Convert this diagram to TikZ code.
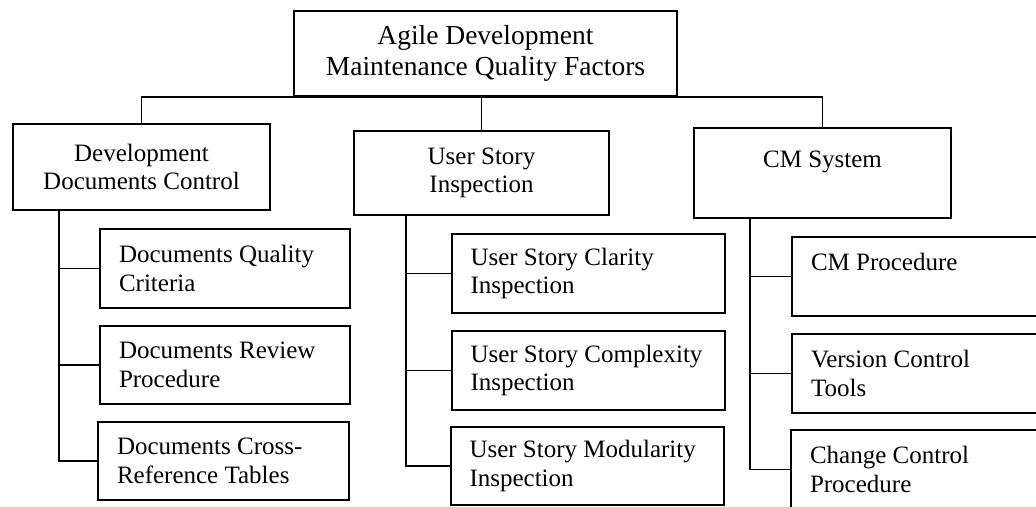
\documentclass[tikz,border=0pt]{standalone}
\usepackage{fontspec}
\setmainfont{Liberation Serif}
\newcommand{\lnbox}[1]{\mbox{#1}}
\begin{document}
\begin{tikzpicture}[x=1pt,y=-1pt,
  box/.style={draw, line width=1.8pt, inner sep=0pt, font=\fontsize{25}{28.5}\selectfont},
  mainbox/.style={box, align=center},
  leafbox/.style={box, align=flush left},
  conn/.style={line width=1.6pt}]
\useasboundingbox (0,0) rectangle (1036,506);
\clip (0,0) rectangle (1036,506);
% top
\node[mainbox, minimum width=383pt, minimum height=85pt, font=\fontsize{27.5}{31}\selectfont] (top) at (485.5,53.5) {Agile Development\\Maintenance Quality Factors};
% level 1
\node[mainbox, minimum width=257pt, minimum height=86pt] (dev) at (141.5,167) {Development\\Documents Control};
\node[mainbox, minimum width=255pt, minimum height=84pt] (usi) at (481.5,173) {User Story\\Inspection};
\node[mainbox, minimum width=257pt, minimum height=90pt] (cm) at (822.5,173) {CM System\\\mbox{}};
% leaves left
\node[leafbox, minimum width=250pt, text width=212pt, minimum height=79pt] (dq) at (225,268.5) {\lnbox{Documents Quality}\\\lnbox{Criteria}};
\node[leafbox, minimum width=250pt, text width=212pt, minimum height=78pt] (dr) at (225,365) {\lnbox{Documents Review}\\\lnbox{Procedure}};
\node[leafbox, minimum width=251pt, text width=213pt, minimum height=78pt] (dc) at (223.5,461) {\lnbox{Documents Cross-}\\\lnbox{Reference Tables}};
% leaves middle
\node[leafbox, minimum width=273pt, text width=236pt, minimum height=79pt] (uc) at (588.5,273.5) {\lnbox{User Story Clarity}\\\lnbox{Inspection}};
\node[leafbox, minimum width=273pt, text width=236pt, minimum height=79pt] (ux) at (588.5,370.5) {\lnbox{User Story Complexity}\\\lnbox{Inspection}};
\node[leafbox, minimum width=273pt, text width=236pt, minimum height=78pt] (um) at (587.5,466) {\lnbox{User Story Modularity}\\\lnbox{Inspection}};
% leaves right
\node[leafbox, minimum width=270pt, text width=232pt, minimum height=79pt] (cp) at (927,276.5) {\lnbox{CM Procedure}\\\mbox{}};
\node[leafbox, minimum width=270pt, text width=232pt, minimum height=79pt] (vc) at (927,373.5) {\lnbox{Version Control}\\\lnbox{Tools}};
\node[leafbox, minimum width=270pt, text width=232pt, minimum height=79pt] (cc) at (926,469.5) {\lnbox{Change Control}\\\lnbox{Procedure}};
% top connectors
\draw[conn] (dev.north) |- (top.south) -| (cm.north);
\draw[conn] (usi.north) -- (usi.north |- top.south);
% trunks
\coordinate (t1) at ([xshift=47pt]dev.south west);
\coordinate (t2) at ([xshift=53pt]usi.south west);
\coordinate (t3) at ([xshift=57pt]cm.south west);
\draw[conn] (t1) |- (dc.west);
\draw[conn] (dq.west) -- (dq.west -| t1);
\draw[conn] (dr.west) -- (dr.west -| t1);
\draw[conn] (t2) |- (um.west);
\draw[conn] (uc.west) -- (uc.west -| t2);
\draw[conn] (ux.west) -- (ux.west -| t2);
\draw[conn] (t3) |- (cc.west);
\draw[conn] (cp.west) -- (cp.west -| t3);
\draw[conn] (vc.west) -- (vc.west -| t3);
\end{tikzpicture}
\end{document}
